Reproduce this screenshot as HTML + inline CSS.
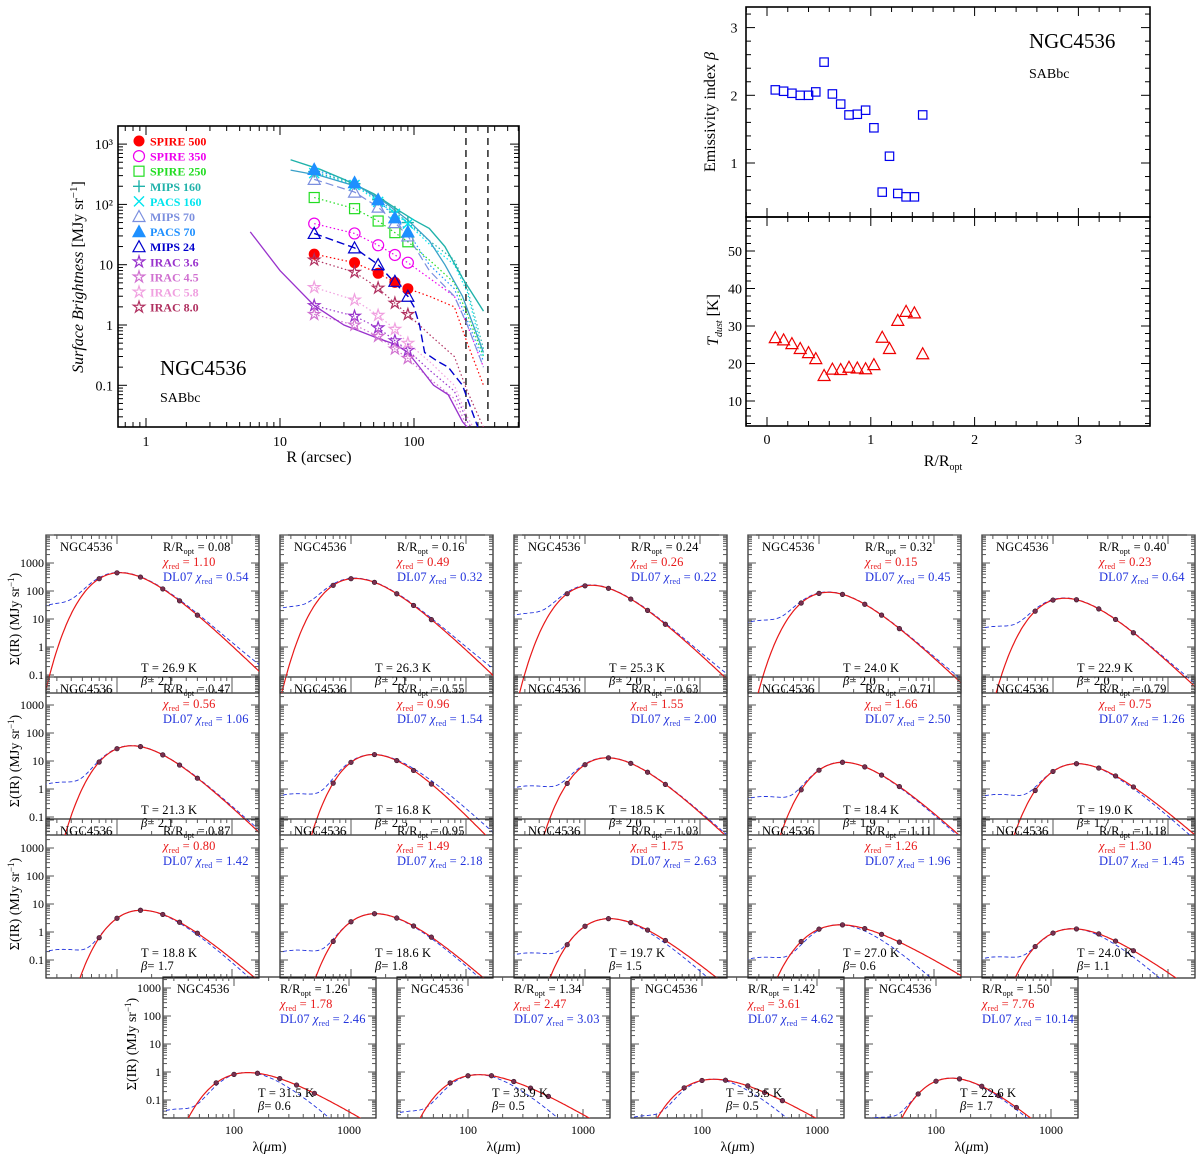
<!DOCTYPE html>
<html><head><meta charset="utf-8"><style>
html,body{margin:0;padding:0;background:#fff;}
svg{display:block;font-family:"Liberation Serif","DejaVu Serif",serif;}
</style></head><body>
<svg id="c" width="1200" height="1156" viewBox="0 0 1200 1156"></svg>
<script>
// ---------- Profile panel data ----------
const profR=[18,36,54,72,90];
const bandNames=['SPIRE 500','SPIRE 350','SPIRE 250','MIPS 160','PACS 160','MIPS 70','PACS 70','MIPS 24','IRAC 3.6','IRAC 4.5','IRAC 5.8','IRAC 8.0'];
const bandColors=['#ff0000','#ee00ee','#22dd22','#20b2aa','#00e5ee','#7b8fdf','#1e90ff','#0000cd','#9932cc','#d070d0','#f0a0e0','#b03060'];
const bandMarkers=['fcircle','ocircle','osquare','plus','cross','otri','ftri','otri','star','star','star','star'];
const spire500=[15,10.8,7.2,5.1,4.0];
const spire350=[48,33,21,14.5,10.8];
const spire250=[130,85,53,34,24];
const mips160=[350,220,120,75,50];
const pacs160=[330,210,110,70,48];
const mips70=[260,160,90,50,30];
const pacs70=[380,230,120,60,35];
const mips24=[33,19,10,5.3,3.0];
const irac36=[2.1,1.4,0.9,0.55,0.38];
const irac45=[1.5,1.0,0.65,0.4,0.28];
const irac58=[4.2,2.6,1.45,0.85,0.5];
const irac80=[12,7.5,4.1,2.3,1.5];
const tailR=[130,200,250,330];
const tail500=[3,2,0.5,0.1];const tail350=[6,3,1,0.2];const tail250=[12,5,1.5,0.3];
const tail160=[25,12,4,0.4];const tailP160=[22,10,3.5,0.3];const tail70=[8,3,1,0.2];
const tailP70=[10,4,1.2,0.25];const tail24=[0.35,0.2,0.08,0.01];const tail36=[0.18,0.08,0.025,0.01];
const tail45=[0.13,0.06,0.02,0.01];const tail58=[0.25,0.1,0.03,0.01];const tail80=[0.7,0.3,0.08,0.02];
const solidAR=[12,20,30,50,80,100,130,170,230,330];const solidAV=[550,380,260,150,75,55,40,20,6,1.7];
const solidBR=[12,20,40,60,90,130,170,230,330];const solidBV=[370,300,190,110,55,25,10,3,0.35];
const solidCR=[6,10,18,30,54,72,90,110,140,180,230,250];const solidCV=[35,8,2.1,1.0,0.6,0.48,0.35,0.2,0.1,0.07,0.025,0.02];
const dash24R=[18,36,54,72,90,100,110,120,150,180,230,300];const dash24V=[33,19,10,5,3,2,1,0.35,0.25,0.2,0.1,0.02];
const profYTicks=[1000,100,10,1,0.1];const profYLabels=['10³','10²','10','1','0.1'];
const profXTicks=[1,10,100];

// ---------- beta / T panel data ----------
const rRopt=[0.08,0.16,0.24,0.32,0.40,0.47,0.55,0.63,0.71,0.79,0.87,0.95,1.03,1.11,1.18,1.26,1.34,1.42,1.50];
const betaVals=[2.08,2.06,2.03,2.0,2.0,2.05,2.49,2.02,1.87,1.71,1.72,1.78,1.52,0.57,1.1,0.55,0.5,0.5,1.71];
const tdustVals=[26.9,26.3,25.3,24.0,22.9,21.3,16.8,18.5,18.4,19.0,18.8,18.6,19.7,27.0,24.0,31.5,33.9,33.5,22.6];
const betaTicks=[1,2,3];const tTicks=[10,20,30,40,50];const rTicks=[0,1,2,3];

// ---------- SED panels data ----------
const sedBeta=['2.1','2.1','2.0','2.0','2.0','2.1','2.5','2.0','1.9','1.7','1.7','1.8','1.5','0.6','1.1','0.6','0.5','0.5','1.7'];
const sedRopt=['0.08','0.16','0.24','0.32','0.40','0.47','0.55','0.63','0.71','0.79','0.87','0.95','1.03','1.11','1.18','1.26','1.34','1.42','1.50'];
const chiMBB=['1.10','0.49','0.26','0.15','0.23','0.56','0.96','1.55','1.66','0.75','0.80','1.49','1.75','1.26','1.30','1.78','2.47','3.61','7.76'];
const chiDL=['0.54','0.32','0.22','0.45','0.64','1.06','1.54','2.00','2.50','1.26','1.42','2.18','2.63','1.96','1.45','2.46','3.03','4.62','10.14'];
const sedPeak=[450,280,160,90,55,35,17,13,9,8,6,4.5,3,1.8,1.3,0.95,0.8,0.55,0.6];
const sedWarm=[0.08,0.1,0.1,0.1,0.1,0.05,0.04,0.1,0.06,0.08,0.04,0.05,0.06,0.07,0.1,0.05,0.05,0.05,0.04];
const sedLam=[70,100,160,250,350,500];
const sedYTicks=[1000,100,10,1,0.1];const sedYLabels=['1000','100','10','1','0.1'];
const sedXTicks=[100,1000];

const NS='http://www.w3.org/2000/svg';
const svg=document.getElementById('c');
function mk(tag,attrs,parent){const e=document.createElementNS(NS,tag);for(const k in attrs)e.setAttribute(k,attrs[k]);(parent||svg).appendChild(e);return e;}
function txt(s,x,y,size,fill,parent,anchor){const t=mk('text',{x:x,y:y,'font-size':size,fill:fill||'#000','text-anchor':anchor||'start'},parent);t.textContent=s;return t;}
const L=Math.log10;

// ================= PROFILE PANEL =================
const PX0=118,PX1=519,PY0=126,PY1=427;
const px=R=>146+134*L(R);
const py=v=>325-60.3*L(v);
const gP=mk('g',{});

const cpP=mk('clipPath',{id:'cp'},gP);mk('rect',{x:PX0,y:PY0,width:PX1-PX0,height:PY1-PY0},cpP);
const fr=mk('rect',{x:PX0,y:PY0,width:PX1-PX0,height:PY1-PY0,fill:'none',stroke:'#000','stroke-width':1.6},gP);

for(let d=-1;d<=2;d++){for(let m=1;m<10;m++){const v=m*Math.pow(10,d);const x=px(v);if(x<PX0||x>PX1)continue;const h=m===1?9:5;
mk('line',{x1:x,x2:x,y1:PY1,y2:PY1-h,stroke:'#000'},gP);mk('line',{x1:x,x2:x,y1:PY0,y2:PY0+h,stroke:'#000'},gP);}}
for(let d=-2;d<=3;d++){for(let m=1;m<10;m++){const v=m*Math.pow(10,d);const y=py(v);if(y<PY0||y>PY1)continue;const h=m===1?9:5;
mk('line',{x1:PX0,x2:PX0+h,y1:y,y2:y,stroke:'#000'},gP);mk('line',{x1:PX1,x2:PX1-h,y1:y,y2:y,stroke:'#000'},gP);}}
profXTicks.forEach(v=>{const t=txt(String(v),px(v),446,14,'#000',gP,'middle');});
profYTicks.forEach((v,i)=>{const t=txt(profYLabels[i],113,py(v)+5,14,'#000',gP,'end');});
let t=txt('R (arcsec)',319,462,16,'#000',gP,'middle');
t=mk('text',{x:0,y:0,'font-size':16,'text-anchor':'middle',transform:'translate(83,277) rotate(-90)'},gP);
t.innerHTML='<tspan font-style="italic">Surface Brightness</tspan> [MJy sr<tspan dy="-6" font-size="11">−1</tspan><tspan dy="6">]</tspan>';

t=txt('NGC4536',160,375,21,'#000',gP);
t=txt('SABbc',160,402,14,'#000',gP);
[240,350].forEach(R=>{const l=mk('line',{x1:px(R)+1,x2:px(R)+1,y1:PY0,y2:PY1,stroke:'#333','stroke-width':1.6,'stroke-dasharray':'7,5'},gP);});
const gc=mk('g',{'clip-path':'url(#cp)'},gP);
function polyline(Rs,Vs,col,dash,w,name){const p=mk('polyline',{points:Rs.map((R,i)=>px(R)+','+py(Vs[i])).join(' '),fill:'none',stroke:col,'stroke-width':w||1.2,'stroke-dasharray':dash||'none'},gc);return p;}
const seriesVals=[spire500,spire350,spire250,mips160,pacs160,mips70,pacs70,mips24,irac36,irac45,irac58,irac80];
const tails=[tail500,tail350,tail250,tail160,tailP160,tail70,tailP70,tail24,tail36,tail45,tail58,tail80];
seriesVals.forEach((vals,k)=>{if(k===7||k===5)return;polyline(profR.concat(tailR),vals.concat(tails[k]),bandColors[k],'1.5,2.5',1.2,'profile-dotted-'+k);});
polyline(profR.concat(tailR),mips70.concat(tail70),bandColors[5],'8,4',1.2,'profile-dashed-mips70');
polyline(solidAR,solidAV,'#20b2aa','none',1.4,'profile-solid-mips160');
polyline(solidBR,solidBV,'#3aa0c8','none',1.3,'profile-solid-pacs');
polyline(solidCR,solidCV,'#9932cc','none',1.3,'profile-solid-irac36');
polyline(dash24R,dash24V,'#0000cd','8,4',1.4,'profile-dashed-mips24');
function marker(type,x,y,col,parent,s){s=s||5;let e;
 if(type==='fcircle')e=mk('circle',{cx:x,cy:y,r:s+0.5,fill:col},parent);
 else if(type==='ocircle')e=mk('circle',{cx:x,cy:y,r:s+0.5,fill:'none',stroke:col,'stroke-width':1.2},parent);
 else if(type==='osquare')e=mk('rect',{x:x-s,y:y-s,width:2*s,height:2*s,fill:'none',stroke:col,'stroke-width':1.2},parent);
 else if(type==='plus')e=mk('path',{d:`M${x-s-1} ${y}H${x+s+1}M${x} ${y-s-1}V${y+s+1}`,stroke:col,'stroke-width':1.4},parent);
 else if(type==='cross')e=mk('path',{d:`M${x-s} ${y-s}L${x+s} ${y+s}M${x-s} ${y+s}L${x+s} ${y-s}`,stroke:col,'stroke-width':1.4},parent);
 else if(type==='otri'||type==='ftri')e=mk('path',{d:`M${x} ${y-s-1}L${x+s+1} ${y+s}L${x-s-1} ${y+s}Z`,fill:type==='ftri'?col:'none',stroke:col,'stroke-width':1.2},parent);
 else {let d='';for(let i=0;i<10;i++){const a=-Math.PI/2+i*Math.PI/5;const r=i%2?s*0.45:s+1;d+=(i?'L':'M')+(x+r*Math.cos(a)).toFixed(1)+' '+(y+r*Math.sin(a)).toFixed(1);}e=mk('path',{d:d+'Z',fill:'none',stroke:col,'stroke-width':1.2},parent);}
 return e;}
seriesVals.forEach((vals,k)=>{vals.forEach((v,i)=>{const m=marker(bandMarkers[k],px(profR[i]),py(v),bandColors[k],gP);});});
bandNames.forEach((n,k)=>{const y=141+15.1*k;const m=marker(bandMarkers[k],139,y,bandColors[k],gP);
 const tt=txt(n,150,y+4.5,12,bandColors[k],gP);tt.setAttribute('font-weight','bold');});

// ================= BETA / T PANEL =================
const RX0=746,RX1=1150,RY0=7,RYM=217,RY1=426;
const rx=r=>767+103.8*r;
const by=b=>163-67.7*(b-1);
const ty=T=>401-3.75*(T-10);
const gR=mk('g',{});
[[RY0,RYM,'beta-frame'],[RYM,RY1,'tdust-frame']].forEach(a=>{const r=mk('rect',{x:RX0,y:a[0],width:RX1-RX0,height:a[1]-a[0],fill:'none',stroke:'#000','stroke-width':1.6},gR);});
for(let v=-0.2;v<=3.6;v+=0.2){const x=rx(Math.round(v*10)/10);if(x<RX0||x>RX1)continue;const maj=Math.abs(v-Math.round(v))<0.01;const h=maj?9:5;
 [RY0,RYM].forEach(y=>mk('line',{x1:x,x2:x,y1:y,y2:y+h,stroke:'#000'},gR));[RYM,RY1].forEach(y=>mk('line',{x1:x,x2:x,y1:y,y2:y-h,stroke:'#000'},gR));}
for(let b=0.4;b<=3.3;b+=0.2){const y=by(b);if(y<RY0||y>RYM)continue;const maj=Math.abs(b-Math.round(b))<0.01;const h=maj?9:5;mk('line',{x1:RX0,x2:RX0+h,y1:y,y2:y,stroke:'#000'},gR);mk('line',{x1:RX1,x2:RX1-h,y1:y,y2:y,stroke:'#000'},gR);}
for(let T=4;T<=58;T+=2){const y=ty(T);if(y<RYM||y>RY1)continue;const h=T%10===0?9:5;mk('line',{x1:RX0,x2:RX0+h,y1:y,y2:y,stroke:'#000'},gR);mk('line',{x1:RX1,x2:RX1-h,y1:y,y2:y,stroke:'#000'},gR);}
betaTicks.forEach(b=>{const q=txt(String(b),734,by(b)+5,14,'#000',gR,'middle');});
tTicks.forEach(T=>{const q=txt(String(T),735,ty(T)+5,14,'#000',gR,'middle');});
rTicks.forEach(r=>{const q=txt(String(r),rx(r),444,14,'#000',gR,'middle');});
t=mk('text',{x:0,y:0,'font-size':16,'text-anchor':'middle',transform:'translate(715,112) rotate(-90)'},gR);
t.innerHTML='Emissivity index <tspan font-style="italic">β</tspan>';
t=mk('text',{x:0,y:0,'font-size':16,'text-anchor':'middle',transform:'translate(718,320) rotate(-90)'},gR);
t.innerHTML='<tspan font-style="italic">T</tspan><tspan font-size="10" dy="4" font-style="italic">dust</tspan><tspan dy="-4">  [K]</tspan>';
t=mk('text',{x:943,y:466,'font-size':16,'text-anchor':'middle'},gR);t.innerHTML='R/R<tspan font-size="10" dy="4">opt</tspan>';
t=txt('NGC4536',1029,48,21,'#000',gR);
t=txt('SABbc',1029,78,14,'#000',gR);
rRopt.forEach((r,i)=>{const m=marker('osquare',rx(r),by(betaVals[i]),'#0000ee',gR,4.2);
 const n=marker('otri',rx(r),ty(tdustVals[i]),'#ee0000',gR,5);});

// ================= SED PANELS =================
function mbb(l,T,b){return Math.pow(l,-(3+b))/(Math.exp(14388/(l*T))-1);}
function mbbMax(T,b){let m=0;for(let l=5;l<3000;l*=1.02){m=Math.max(m,mbb(l,T,b));}return m;}
const rowTops=[535,677,819,977],rowY1000=[563,705,848,988];
const panels=[];
for(let i=0;i<19;i++){let row,col,x0;if(i<15){row=Math.floor(i/5);col=i%5;x0=46+234*col;}else{row=3;col=i-15;x0=163+234*col;}
 panels.push({x0:x0,top:rowTops[row],y1000:rowY1000[row],bot:rowY1000[row]+130,row:row,col:col});}
const defs=mk('defs',{});
const FS=12.5,LS=0.15;
panels.forEach((p,i)=>{
 const W=213;const sx=l=>p.x0+71+115*(L(l)-2);const sy=v=>p.y1000-28*(L(v)-3);
 const cpid='sc'+i;const c=mk('clipPath',{id:cpid},defs);mk('rect',{x:p.x0,y:p.top,width:W,height:p.bot-p.top},c);
 const g=mk('g',{});
 const f=mk('rect',{x:p.x0,y:p.top,width:W,height:p.bot-p.top,fill:'none',stroke:'#222','stroke-width':1.2},g);
 for(let d=1;d<=3;d++)for(let m=1;m<10;m++){const x=sx(m*Math.pow(10,d));if(x<p.x0||x>p.x0+W)continue;const h=m===1?9:4;
  mk('line',{x1:x,x2:x,y1:p.bot,y2:p.bot-h,stroke:'#555'},g);mk('line',{x1:x,x2:x,y1:p.top,y2:p.top+h,stroke:'#555'},g);}
 for(let d=-2;d<=4;d++)for(let m=1;m<10;m++){const y=sy(m*Math.pow(10,d));if(y<p.top||y>p.bot)continue;const h=m===1?8:4;
  mk('line',{x1:p.x0,x2:p.x0+h,y1:y,y2:y,stroke:'#555'},g);mk('line',{x1:p.x0+W,x2:p.x0+W-h,y1:y,y2:y,stroke:'#555'},g);}
 if(p.col===0){sedYTicks.forEach((v,k)=>{const q=txt(sedYLabels[k],p.x0-2,sy(v)+4,12,'#000',g,'end');});
  const q=mk('text',{x:0,y:0,'font-size':14,'text-anchor':'middle',transform:`translate(${p.x0-27},${sy(10)}) rotate(-90)`},g);
  q.innerHTML='Σ(IR) (MJy sr<tspan dy="-5" font-size="9">−1</tspan><tspan dy="5">)</tspan>';}
 if(p.row===3){sedXTicks.forEach(v=>{const q=txt(String(v),sx(v),p.bot+16,12,'#000',g,'middle');});
  const q=mk('text',{x:p.x0+W/2,y:p.bot+33,'font-size':14,'text-anchor':'middle'},g);q.innerHTML='λ(<tspan font-style="italic">μ</tspan>m)';}
 const T=tdustVals[i],B=betaVals[i],pk=sedPeak[i];const mx=mbbMax(T,B);
 const Tb=T*(3+B)/5,mxb=mbbMax(Tb,2),mxw=mbbMax(150,0);
 const gc2=mk('g',{'clip-path':`url(#${cpid})`},g);
 let dR='',dB='';let first=true;
 for(let l=20;l<2000;l*=1.03){const vr=pk*mbb(l,T,B)/mx;const vb=pk*mbb(l,Tb,2)/mxb+sedWarm[i]*pk*mbb(l,150,0)/mxw;
  dR+=(first?'M':'L')+sx(l).toFixed(1)+' '+Math.min(sy(vr),p.bot+50).toFixed(1);dB+=(first?'M':'L')+sx(l).toFixed(1)+' '+Math.min(sy(vb),p.bot+50).toFixed(1);first=false;}
 const lb=mk('path',{d:dB,fill:'none',stroke:'#2233dd','stroke-width':0.9,'stroke-dasharray':'4,2.5'},gc2);
 const lr=mk('path',{d:dR,fill:'none',stroke:'#e81818','stroke-width':1.2},gc2);
 sedLam.forEach(l=>{const v=pk*mbb(l,T,B)/mx;const pt=mk('circle',{cx:sx(l),cy:sy(v),r:2.3,fill:'#7a3050',stroke:'#301020','stroke-width':0.6},gc2);});
 const q0=txt('NGC4536',p.x0+14,p.top+16,FS,'#000',g);q0.setAttribute('letter-spacing',LS);
 const q1=mk('text',{x:p.x0+117,y:p.top+16,'font-size':FS,'letter-spacing':LS},g);q1.innerHTML='R/R<tspan font-size="8" dy="3">opt</tspan><tspan dy="-3"> = '+sedRopt[i]+'</tspan>';
 const q2=mk('text',{x:p.x0+117,y:p.top+31,'font-size':FS,'letter-spacing':LS,fill:'#e81818'},g);q2.innerHTML='<tspan font-style="italic">χ</tspan><tspan font-size="8" dy="3">red</tspan><tspan dy="-3"> = '+chiMBB[i]+'</tspan>';
 const q3=mk('text',{x:p.x0+117,y:p.top+46,'font-size':FS,'letter-spacing':LS,fill:'#2233dd'},g);q3.innerHTML='DL07 <tspan font-style="italic">χ</tspan><tspan font-size="8" dy="3">red</tspan><tspan dy="-3"> = '+chiDL[i]+'</tspan>';
 const q4=txt('T = '+T.toFixed(1)+' K',p.x0+95,p.bot-21,FS,'#000',g);q4.setAttribute('letter-spacing',LS);
 const q5=mk('text',{x:p.x0+95,y:p.bot-8,'font-size':FS,'letter-spacing':LS},g);q5.innerHTML='<tspan font-style="italic">β</tspan>= '+sedBeta[i];
});
</script>
</body></html>
